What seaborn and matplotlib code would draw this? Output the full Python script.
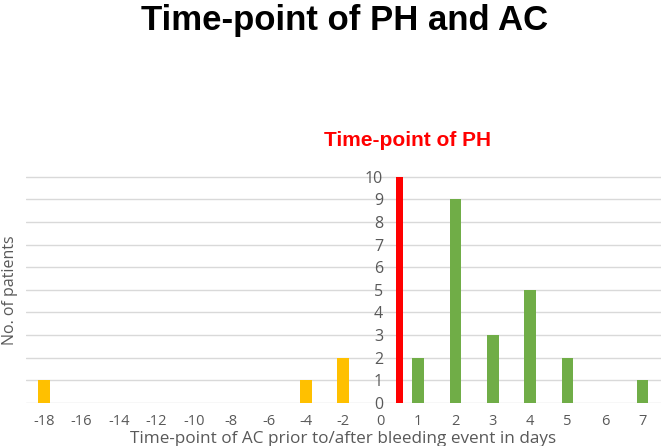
import pandas as pd
import numpy as np
import matplotlib.pyplot as plt
import seaborn as sns

# data
days = [-18, -16, -14, -12, -10, -8, -6, -4, -2, 0, 1, 2, 3, 4, 5, 6, 7]
patients = [1, 0, 0, 0, 0, 0, 0, 1, 2, 0, 2, 9, 3, 5, 2, 0, 1]
ph_offset = 0.5      # PH sits between day 0 and day 1
ph_patients = [10]
y_ticks = list(range(0, 11))

df = pd.DataFrame({'day': days, 'patients': patients})
df['pos'] = np.arange(len(df))
df['phase'] = np.where(df['day'] < 0, 'prior', 'after')

ph_df = pd.DataFrame({'pos': [days.index(0) + ph_offset], 'patients': ph_patients})

sns.set_style('white')
plt.rcParams['font.family'] = ['Open Sans', 'DejaVu Sans']

fig = plt.figure(figsize=(6.61, 4.46), dpi=100)
ax = fig.add_axes([0.0386, 0.0964, 0.9614, 0.509])

sns.barplot(data=df, x='pos', y='patients', hue='phase', native_scale=True,
            palette={'prior': '#FFC000', 'after': '#70AD47'}, width=0.31,
            dodge=False, legend=False, ax=ax, zorder=3, saturation=1)
sns.barplot(data=ph_df, x='pos', y='patients', native_scale=True,
            color='#FF0000', width=0.17, ax=ax, zorder=3, saturation=1)

# keep bar colours pure
for p in ax.patches:
    p.set_edgecolor('none')

ax.set_xlim(-0.5, len(days) - 0.5)
ax.set_ylim(0, 10.03)
ax.set_xticks(df['pos'])
ax.set_xticklabels([str(d) for d in days])
ax.set_yticks(y_ticks)

ax.yaxis.grid(True, color='#D9D9D9', lw=1)
ax.xaxis.grid(False)
ax.set_axisbelow(True)
for s in ['top', 'right', 'bottom']:
    ax.spines[s].set_visible(False)
ax.spines['left'].set_position(('data', days.index(0) + 0.1))
ax.spines['left'].set_visible(False)

ax.tick_params(axis='both', length=0, colors='#595959')
ax.tick_params(axis='x', pad=8, labelsize=10.5)
ax.tick_params(axis='y', pad=1, labelsize=11.5)

ax.set_xlabel('Time-point of AC prior to/after bleeding event in days',
              fontsize=12.3, color='#595959')
ax.xaxis.set_label_coords(0.5, -0.122)
ax.set_ylabel('')
fig.text(0.015, 0.35, 'No. of patients', rotation=90, ha='center', va='center',
         fontsize=11.5, color='#595959')

fig.text(0.522, 0.955, 'Time-point of PH and AC', ha='center', va='center',
         fontsize=25, fontweight='bold', family='Liberation Sans', color='black')
fig.text(0.616, 0.684, 'Time-point of PH', ha='center', va='center',
         fontsize=15, fontweight='bold', family='Liberation Sans', color='#FF0000')

fig.savefig('out.png', dpi=100)
